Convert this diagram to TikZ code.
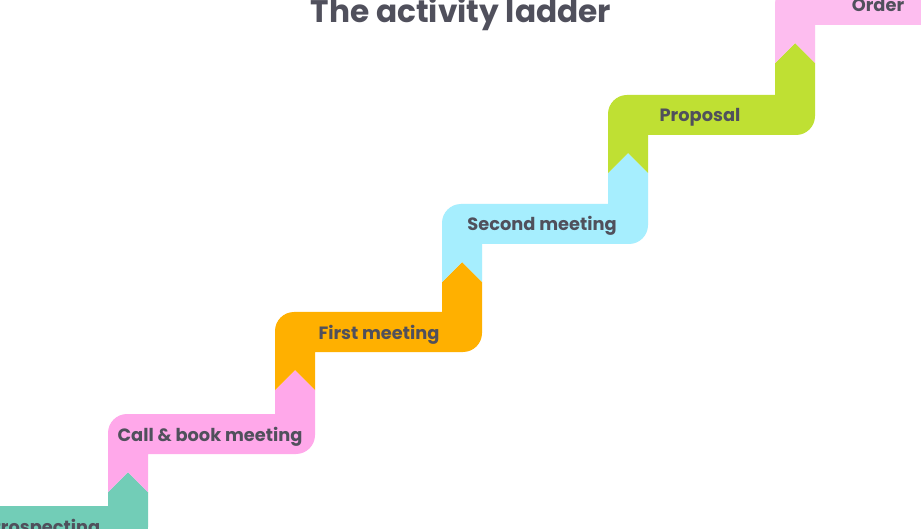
\documentclass[tikz,border=0pt]{standalone}
\usepackage{fontspec}
\setmainfont{Poppins}
\definecolor{txt}{HTML}{50505C}
\definecolor{cteal}{HTML}{72CDB7}
\definecolor{cpink}{HTML}{FFA8EA}
\definecolor{corange}{HTML}{FFB000}
\definecolor{cblue}{HTML}{A6EEFE}
\definecolor{cgreen}{HTML}{BFE033}
\definecolor{clpink}{HTML}{FDBDEF}
\newcommand\ladderseg[5]{%
 \fill[#1] (#2,#4+78) -- (#2,#4+19) arc[start angle=180,end angle=270,radius=19]
  -- (#3,#4) -- (#3,#5+78) -- (#3+20,#5+58) -- (#3+40,#5+78)
  -- (#3+40,#4+21) arc[start angle=0,end angle=90,radius=19]
  -- (#2+40,#4+40) -- (#2+40,#4+78) -- (#2+20,#4+58) -- cycle;}
\tikzset{lbl/.style={anchor=base,text=txt,font=\fontsize{17.8}{20}\selectfont\bfseries,inner sep=0pt}}
\begin{document}
\begin{tikzpicture}[x=1pt,y=-1pt]
\useasboundingbox (0,0) rectangle (921,529);
\clip (0,0) rectangle (921,529);
\fill[white] (0,0) rectangle (921,529);
\ladderseg{cteal}{-60}{108}{506}{414}
\ladderseg{cpink}{108}{275}{414}{312}
\ladderseg{corange}{275}{442}{312}{204}
\ladderseg{cblue}{442}{608}{204}{95}
\ladderseg{cgreen}{608}{775}{95}{-15}
\ladderseg{clpink}{775}{1000}{-15}{-200}
\node[lbl] (prosp) at (45,533) {Prospecting};
\node[lbl] (call) at (210,441) {Call \& book meeting};
\node[lbl] (first) at (379,339) {First meeting};
\node[lbl] (second) at (542,231) {Second meeting};
\node[lbl] (prop) at (700,122) {Proposal};
\node[lbl] (order) at (878,12) {Order};
\node[anchor=base,text=txt,font=\fontsize{31.2}{34}\selectfont\bfseries,inner sep=0pt] (title) at (461,23) {The activity ladder};
\end{tikzpicture}
\end{document}
